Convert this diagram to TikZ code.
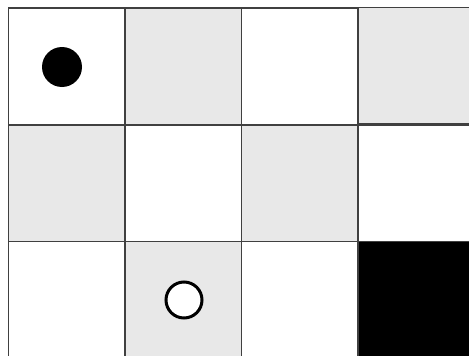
\documentclass[tikz,border=0pt]{standalone}
\begin{document}
\begin{tikzpicture}[x=1pt,y=-1pt,
  cell/.style={draw=black!75, line width=1.5pt, minimum width=116.6pt, minimum height=116.6pt, inner sep=0pt, outer sep=0pt, anchor=north west},
  lightc/.style={cell, fill=black!9},
  whitec/.style={cell, fill=white},
  darkc/.style={cell, fill=black},
  stone/.style={circle, inner sep=0pt, minimum size=40pt}
]
\useasboundingbox (0,0) rectangle (469,356);
\clip (0,0) rectangle (469,356);
\fill[white] (0,0) rectangle (469,356);
% row 0
\node[whitec] (c00) at (8.5,8) {};
\node[lightc] (c01) at (124.8,8) {};
\node[whitec] (c02) at (241.3,8) {};
\node[lightc] (c03) at (358,7.5) {};
% row 1
\node[lightc] (c10) at (8.5,124.8) {};
\node[whitec] (c11) at (124.8,124.8) {};
\node[lightc] (c12) at (241.3,124.8) {};
\node[whitec] (c13) at (358,124.8) {};
% row 2
\node[whitec] (c20) at (8.5,241.3) {};
\node[lightc] (c21) at (124.8,241.3) {};
\node[whitec] (c22) at (241.3,241.3) {};
\node[darkc] (c23) at (358,241.3) {};
% stones
\node[stone, fill=black] (b) at (62,67) {};
\node[stone, draw=black, fill=white, line width=3pt, minimum size=36pt] (w) at (184,300) {};
\end{tikzpicture}
\end{document}
